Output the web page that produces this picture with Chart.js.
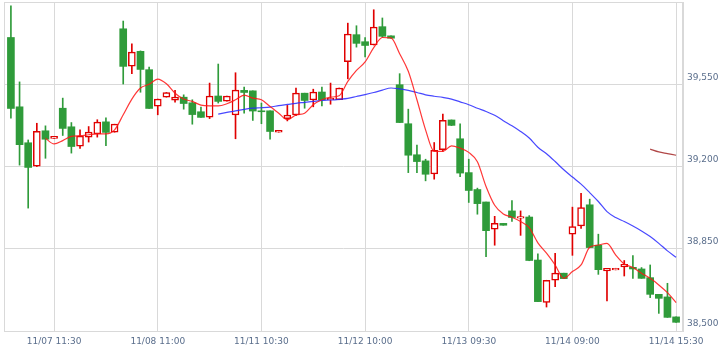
<!DOCTYPE html>
<html>
<head>
<meta charset="utf-8">
<script src="https://cdn.jsdelivr.net/npm/chart.js@4.4.1/dist/chart.umd.min.js"></script>
<style>
html,body{margin:0;padding:0;background:#fff;}
#wrap{width:724px;height:358px;}
</style>
</head>
<body>
<div id="wrap"><canvas id="c" width="724" height="358"></canvas></div>
<script>
// ---- data ----
const candleOpen = [39749,39454,39301,39201,39352,39320,39448,39369,39287,39325,
  39339,39390,39346,39786,39627,39690,39612,39457,39495,39482,
  39495,39471,39433,39410,39500,39478,39419,39524,39522,39437,
  39437,39346,39404,39419,39512,39483,39517,39484,39484,39646,
  39761,39731,39717,39795,39756,39548,39382,39250,39224,39168,
  39272,39398,39318,39174,39102,39049,38933,38958,39011,38980,
  38985,38802,38622,38716,38746,38912,38947,39037,38865,38756,
  38760,38773,38771,38764,38727,38656,38645,38560];
const candleHigh = [39884,39560,39313,39384,39373,39328,39491,39387,39356,39370,
  39399,39407,39380,39819,39722,39692,39623,39487,39515,39524,
  39505,39484,39453,39555,39636,39500,39599,39538,39522,39470,
  39437,39354,39460,39534,39512,39529,39538,39555,39534,39810,
  39799,39749,39867,39832,39756,39595,39444,39291,39231,39302,
  39423,39398,39382,39231,39108,39049,38988,38958,39055,39011,
  38991,38828,38716,38831,38746,39027,39086,39061,38912,38767,
  38767,38800,38821,38770,38781,38656,38703,38560];
const candleLow = [39406,39206,39023,39200,39235,39320,39332,39257,39277,39304,
  39325,39289,39346,39551,39595,39516,39447,39420,39495,39474,
  39444,39380,39409,39404,39470,39478,39318,39427,39396,39382,
  39316,39346,39394,39416,39448,39454,39458,39465,39484,39573,
  39708,39666,39717,39750,39746,39387,39174,39174,39139,39146,
  39264,39374,39157,39047,38997,38816,38865,38950,38966,38907,
  38799,38625,38602,38689,38723,38822,38936,38855,38741,38628,
  38760,38734,38724,38724,38642,38575,38558,38537];
const candleClose = [39447,39293,39196,39350,39316,39328,39362,39285,39329,39346,
  39389,39345,39380,39626,39687,39613,39447,39487,39515,39495,
  39468,39421,39409,39500,39477,39500,39525,39515,39436,39433,
  39349,39354,39419,39512,39481,39517,39484,39490,39534,39764,
  39724,39715,39793,39754,39746,39387,39248,39221,39167,39269,
  39397,39375,39172,39098,39042,38927,38958,38950,38983,38987,
  38800,38625,38716,38746,38723,38944,39025,38855,38761,38767,
  38767,38784,38764,38724,38656,38639,38558,38537];

const maShortStart = 4;
const maShort = [39320,39296,39310,39328,39331,39335,39339,39339,39356,39420,
  39487,39534,39550,39572,39552,39512,39487,39477,39461,39458,
  39458,39467,39484,39504,39491,39484,39455,39427,39399,39419,
  39427,39463,39484,39495,39501,39562,39609,39645,39706,39749,
  39747,39680,39605,39484,39356,39264,39264,39288,39278,39260,
  39220,39115,39035,38998,38984,38966,38940,38875,38831,38781,
  38724,38753,38781,38856,38866,38873,38824,38785,38770,38746,
  38724,38696,38663,38621];

const maMidStart = 24;
const maMid = [39423,39430,39437,39443,39448,39450,39453,39459,39464,39469,
  39473,39477,39481,39483,39486,39490,39498,39506,39515,39525,
  39534,39530,39524,39515,39505,39499,39494,39487,39475,39463,
  39448,39434,39418,39395,39373,39349,39321,39282,39254,39221,
  39186,39155,39125,39089,39051,39008,38983,38966,38947,38926,
  38902,38873,38841,38814];

const maLongStart = 74;
const maLong = [39274,39262,39255,39248];

const xTickIndex = [5,17,29,41,53,65,77];
const xTickLabels = ['11/07 11:30','11/08 11:00','11/11 10:30','11/12 10:00','11/13 09:30','11/14 09:00','11/14 15:30'];

const yMin = 38500, yMax = 39900, yStep = 350;

// ---- styles ----
const GREEN = '#2f9b3a';
const RED = '#e00000';
const GRID = '#d9d9d9';
const LABEL = '#5a6e8c';

const isUp = candleOpen.map((o,i)=>candleClose[i] >= o);

const wickData = candleOpen.map((o,i)=>({x:i, y:[candleLow[i], candleHigh[i]]}));
const bodyData = candleOpen.map((o,i)=>({x:i, y:[Math.min(o,candleClose[i]), Math.max(o,candleClose[i])]}));
const lineData = (arr, start) => arr.map((v,k)=>({x:start+k, y:v}));

const framePlugin = {
  id:'frame',
  beforeDatasetsDraw(chart){
    const {ctx, chartArea:a} = chart;
    ctx.save();
    ctx.strokeStyle = GRID;
    ctx.lineWidth = 1;
    ctx.strokeRect(Math.round(a.left)+0.5, Math.round(a.top)+0.5, Math.round(a.right-a.left)-1, Math.round(a.bottom-a.top));
    ctx.restore();
  }
};

new Chart(document.getElementById('c'), {
  type:'bar',
  data:{
    datasets:[
      {type:'line', data:lineData(maShort, maShortStart), borderColor:'rgba(255,20,20,0.85)', borderWidth:1.2, pointRadius:0, cubicInterpolationMode:'monotone', order:0},
      {type:'line', data:lineData(maMid, maMidStart), borderColor:'rgba(40,40,255,0.85)', borderWidth:1.2, pointRadius:0, cubicInterpolationMode:'monotone', order:0},
      {type:'line', data:lineData(maLong, maLongStart), borderColor:'#b04646', borderWidth:1.2, pointRadius:0, cubicInterpolationMode:'monotone', order:0},
      {data:bodyData, grouped:false, barThickness:7, order:1,
        backgroundColor:isUp.map(u=>u?'#ffffff':GREEN),
        borderColor:isUp.map(u=>u?RED:GREEN),
        borderWidth:isUp.map(u=>u?1.5:0),
        borderSkipped:false},
      {data:wickData, grouped:false, barThickness:1, order:2,
        backgroundColor:isUp.map(u=>u?RED:GREEN), borderWidth:0}
    ]
  },
  options:{
    responsive:false,
    animation:false,
    devicePixelRatio:1,
    layout:{padding:{left:4, top:2, right:0, bottom:0}},
    plugins:{legend:{display:false}, tooltip:{enabled:false}},
    scales:{
      x:{
        type:'linear', min:-0.8, max:77.8, offset:false,
        afterBuildTicks:(s)=>{ s.ticks = xTickIndex.map(v=>({value:v})); },
        afterFit:(s)=>{ s.height = 27; s.paddingLeft = 0; s.paddingRight = 0; },
        grid:{color:GRID, drawTicks:false, offset:false},
        border:{display:true, color:GRID},
        ticks:{autoSkip:false, maxRotation:0, padding:5, color:LABEL,
          font:{family:'DejaVu Sans', size:9},
          callback:(v)=>{ const k = xTickIndex.indexOf(v); return k>=0 ? xTickLabels[k] : ''; }}
      },
      y:{
        type:'linear', position:'right', min:yMin, max:yMax,
        afterFit:(s)=>{ s.width = 41; s.paddingTop = 0; s.paddingBottom = 0; },
        grid:{color:GRID, drawTicks:false},
        border:{display:true, color:GRID},
        ticks:{stepSize:yStep, padding:4, labelOffset:-7, color:LABEL,
          font:{family:'DejaVu Sans', size:9},
          callback:(v)=> v===yMax ? '' : v.toLocaleString('en-US')}
      }
    }
  },
  plugins:[framePlugin]
});
</script>
</body>
</html>
